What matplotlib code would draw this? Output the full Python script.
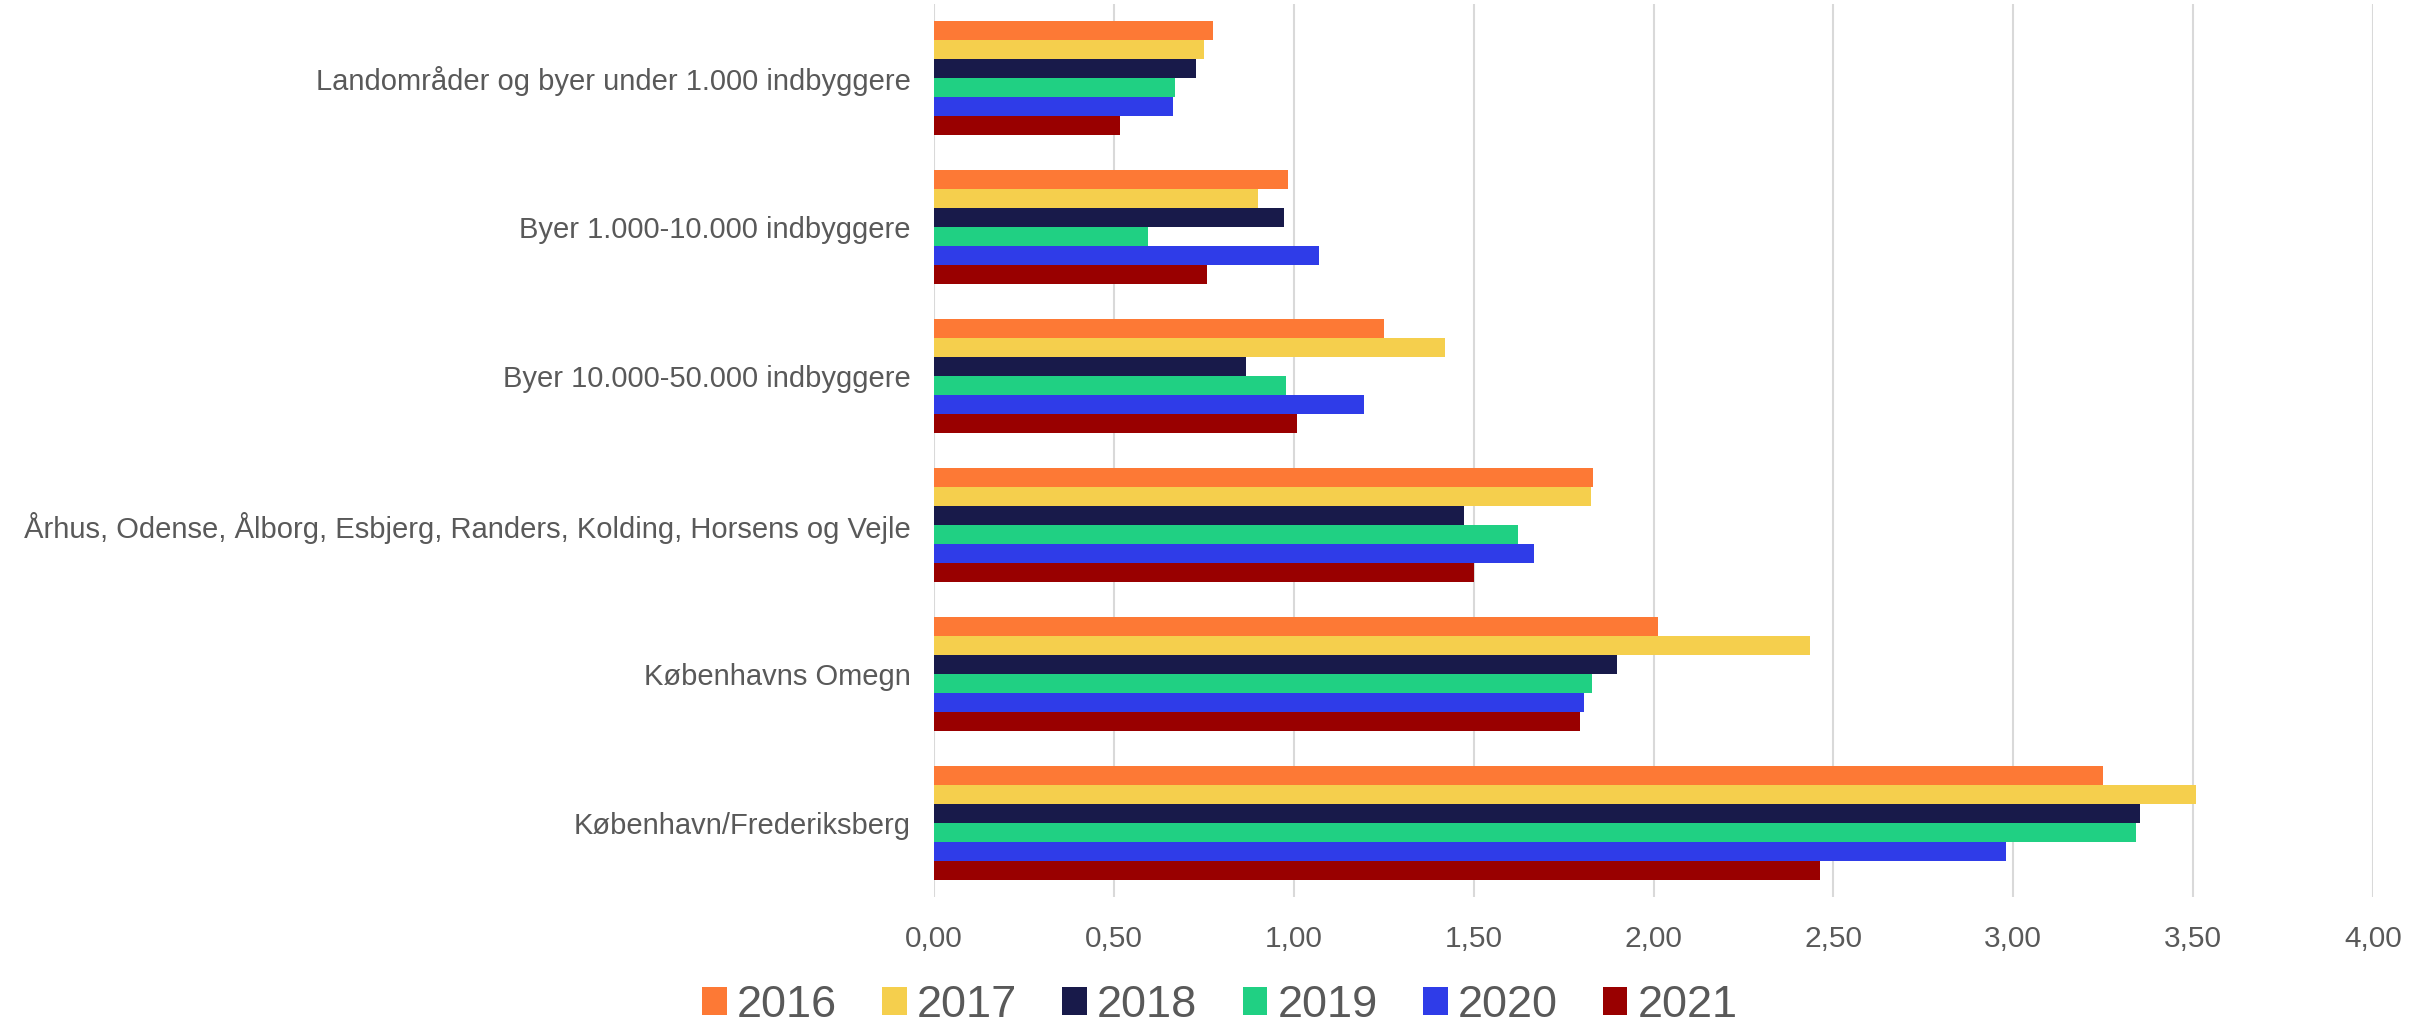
import numpy as np
import matplotlib.pyplot as plt
from matplotlib.ticker import FuncFormatter

plt.rcParams['font.family'] = ['Liberation Sans', 'DejaVu Sans']

# Categories, top to bottom as in the chart
categories = ['Landområder og byer under 1.000 indbyggere',
              'Byer 1.000-10.000 indbyggere',
              'Byer 10.000-50.000 indbyggere',
              'Århus, Odense, Ålborg, Esbjerg, Randers, Kolding, Horsens og Vejle',
              'Københavns Omegn',
              'København/Frederiksberg']
years = ['2016', '2017', '2018', '2019', '2020', '2021']
v2016 = [0.775, 0.984, 1.252, 1.833, 2.012, 3.249]
v2017 = [0.751, 0.901, 1.421, 1.826, 2.435, 3.507]
v2018 = [0.729, 0.974, 0.868, 1.474, 1.899, 3.353]
v2019 = [0.670, 0.595, 0.979, 1.624, 1.829, 3.341]
v2020 = [0.665, 1.069, 1.195, 1.667, 1.806, 2.979]
v2021 = [0.518, 0.759, 1.010, 1.502, 1.795, 2.463]
colors = ['#FD7935', '#F5CF4D', '#181A4A', '#20D083', '#2F3CE8', '#990000']

series = [v2016, v2017, v2018, v2019, v2020, v2021]

fig = plt.figure(figsize=(24.3, 10.25), dpi=100)
ax = fig.add_axes([934 / 2430, 1 - 897 / 1025, (2373 - 934) / 2430, (897 - 4) / 1025])

n = len(categories)
pos = np.arange(n)[::-1]  # first category at top
bh = 0.1275
for i, (vals, c, yr) in enumerate(zip(series, colors, years)):
    off = (2.5 - i) * bh
    ax.barh(pos + off, vals, height=bh, color=c, label=yr, zorder=3)

ax.set_xlim(0, 4)
ax.set_ylim(-0.5, n - 0.5)
ax.set_xticks(np.arange(0, 4.01, 0.5))
ax.xaxis.set_major_formatter(FuncFormatter(lambda x, p: f'{x:.2f}'.replace('.', ',')))
ax.set_yticks(pos)
ax.set_yticklabels(categories)
ax.tick_params(axis='both', length=0, labelsize=21.5, labelcolor='#595959')
ax.tick_params(axis='x', pad=20)
ax.tick_params(axis='y', pad=17, labelsize=21)
ax.grid(axis='x', color='#d9d9d9', linewidth=1.5, zorder=0)
for s in ax.spines.values():
    s.set_visible(False)

fig.legend(loc='center', bbox_to_anchor=(0.502, 0.019), ncol=6, frameon=False,
           fontsize=32.5, labelcolor='#595959', handlelength=0.55, handleheight=0.55,
           handletextpad=0.22, columnspacing=1.0, borderpad=0)

plt.savefig('out.png', dpi=100)
